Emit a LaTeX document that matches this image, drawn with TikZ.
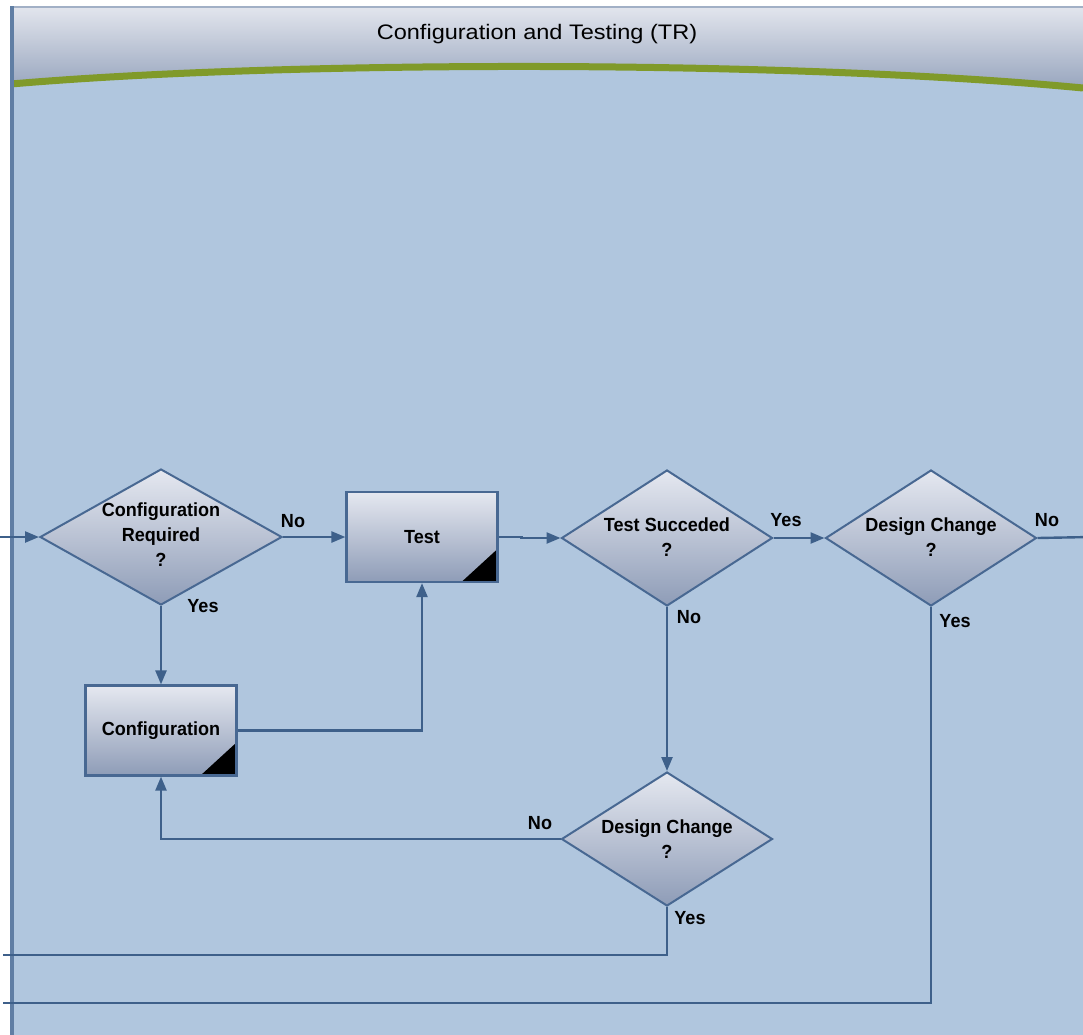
\documentclass[tikz,border=0pt]{standalone}
\usepackage{fontspec}
\setmainfont{Liberation Sans}
\newfontfamily\titlefont{Liberation Sans}[FakeStretch=1.12]
\newfontfamily\flowfont{Liberation Sans}[FakeStretch=0.95]
\usetikzlibrary{shapes.geometric,arrows.meta,calc}

\definecolor{lanebody}{RGB}{176,198,222}
\definecolor{headtop}{RGB}{226,229,237}
\definecolor{headbot}{RGB}{150,164,189}
\definecolor{greenband}{RGB}{128,154,42}
\definecolor{laneedge}{RGB}{96,126,164}
\definecolor{laneedgetop}{RGB}{162,176,198}
\definecolor{flowline}{RGB}{62,96,138}
\definecolor{shapeedge}{RGB}{72,104,146}
\definecolor{shapetop}{RGB}{229,232,240}
\definecolor{shapebot}{RGB}{142,156,183}

\tikzset{
  flowtext/.style={font=\flowfont\bfseries\fontsize{19}{25}\selectfont,
    align=center, inner sep=0pt, text=black},
  decision/.style={diamond, draw=shapeedge, line width=2pt,
    top color=shapetop, bottom color=shapebot, inner sep=0pt},
  process/.style={rectangle, draw=shapeedge, line width=2.2pt,
    top color=shapetop, bottom color=shapebot,
    minimum width=151pt, minimum height=90pt, inner sep=0pt,
    font=\flowfont\bfseries\fontsize{19}{25}\selectfont,
    path picture={\fill[black] (path picture bounding box.south east)
      -- ++(-36pt,0pt) -- ++(36pt,33pt) -- cycle;}},
  flow/.style={draw=flowline, line width=2.4pt},
  flowarrow/.style={flow, -{Triangle[length=14pt,width=11pt]}}
}

\begin{document}
\begin{tikzpicture}[x=1pt,y=-1pt]
\useasboundingbox (0,0) rectangle (1083,1034);
\fill[white] (0,0) rectangle (1083,1034);

% swimlane: body, header band, green divider and frame
\begin{scope}
  \clip (0,0) rectangle (1083,1034);
  \fill[lanebody] (11,7) rectangle (1100,1050);
  \shade[top color=headtop, bottom color=headbot]
    (11,7) -- (1100,7) -- (1100,90)
    .. controls (790,60) and (290,60) .. (11,84) -- cycle;
  \draw[greenband, line width=7pt]
    (11,84) .. controls (290,60) and (790,60) .. (1083,88);
  \draw[laneedgetop, line width=2pt] (11,7) -- (1100,7);
  \draw[laneedge, line width=3.5pt] (12,6) -- (12,1050);
\end{scope}

\node[font=\titlefont\fontsize{21}{25}\selectfont] (title) at (537,34)
  {Configuration and Testing (TR)};

% shapes
\node[decision, minimum width=242pt, minimum height=136pt] (d1) at (161,537) {};
\node[process] (test) at (422,537) {Test};
\node[decision, minimum width=211pt, minimum height=136pt] (d2) at (667,538) {};
\node[decision, minimum width=211pt, minimum height=136pt] (d3) at (931,538) {};
\node[process] (conf) at (161,730.5) {Configuration};
\node[decision, minimum width=211pt, minimum height=134pt] (d4) at (667,839) {};

\node[flowtext] (d1t) at (161,535) {Configuration\\Required\\?};
\node[flowtext] (d2t) at (667,537) {Test Succeded\\?};
\node[flowtext] (d3t) at (931,537) {Design Change\\?};
\node[flowtext] (d4t) at (667,839) {Design Change\\?};

% loose ends of the flow
\coordinate (inL) at (0,537);
\coordinate (outR) at (1090,537);
\coordinate (outA) at (3,955);
\coordinate (outB) at (3,1003);

% connectors
\draw[flowarrow] (inL) -- (d1.west);
\draw[flowarrow] (d1.east) -- (test.west);
\draw[flowarrow] (d1.south) -- (conf.north);
\draw[flowarrow] (conf.east) -| (test.south);
\draw[flowarrow] (test.east) -- ++(23,0) |- (d2.west);
\draw[flowarrow] (d2.east) -- (d3.west);
\draw[flow] (d3.east) -- (outR);
\draw[flowarrow] (d2.south) -- (d4.north);
\draw[flowarrow] (d4.west) -| (conf.south);
\draw[flow] (d4.south) |- (outA);
\draw[flow] (d3.south) |- (outB);

% branch labels
\node[flowtext] (l1) at (293,521) {No};
\node[flowtext] (l2) at (203,606) {Yes};
\node[flowtext] (l3) at (786,520) {Yes};
\node[flowtext] (l4) at (1047,520) {No};
\node[flowtext] (l5) at (689,617) {No};
\node[flowtext] (l6) at (955,621) {Yes};
\node[flowtext] (l7) at (540,823) {No};
\node[flowtext] (l8) at (690,918) {Yes};
\end{tikzpicture}
\end{document}
